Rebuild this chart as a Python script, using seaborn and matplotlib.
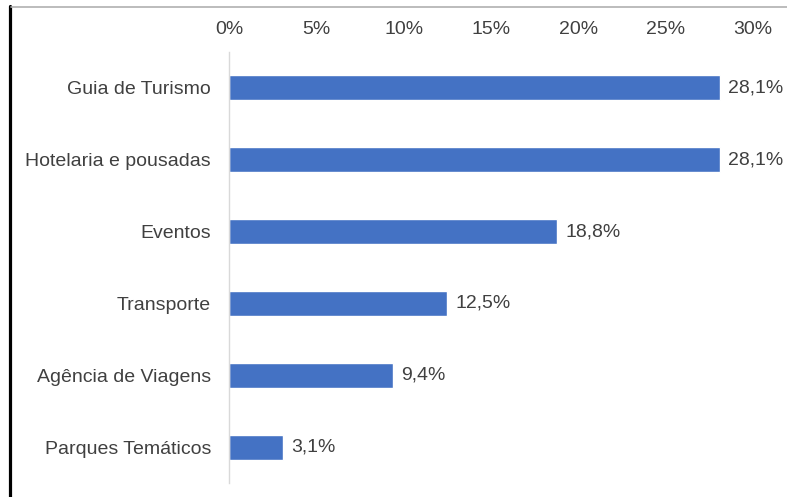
import matplotlib
matplotlib.use("Agg")
import matplotlib.pyplot as plt
import seaborn as sns
from matplotlib.lines import Line2D

# data
categories = ["Guia de Turismo", "Hotelaria e pousadas", "Eventos",
              "Transporte", "Agência de Viagens", "Parques Temáticos"]
values = [28.1, 28.1, 18.8, 12.5, 9.4, 3.1]
tick_values = [0, 5, 10, 15, 20, 25, 30]
tick_labels = ["0%", "5%", "10%", "15%", "20%", "25%", "30%"]

sns.set_style("white")
plt.rcParams["font.family"] = ["Liberation Sans", "DejaVu Sans"]
text_color = "#404040"

fig = plt.figure(figsize=(7.87, 4.97), dpi=100)
ax = fig.add_axes([229 / 787, 1 - 483 / 497, (753 - 229) / 787, (483 - 52) / 497])

sns.barplot(x=values, y=categories, color="#4472C4", width=0.35,
            orient="h", ax=ax, saturation=1)

ax.set_xlim(0, 30)
ax.set_xticks(tick_values)
ax.set_xticklabels(tick_labels)
ax.xaxis.tick_top()
ax.tick_params(axis="x", length=0, pad=10, labelsize=14, labelcolor=text_color)
ax.tick_params(axis="y", length=0, pad=13, labelsize=14, labelcolor=text_color)
ax.set_xlabel("")
ax.set_ylabel("")

for s in ["top", "right", "bottom"]:
    ax.spines[s].set_visible(False)
ax.spines["left"].set_color("#D9D9D9")
ax.spines["left"].set_linewidth(1)

labels = [f"{v:.1f}%".replace(".", ",") for v in values]
ax.bar_label(ax.containers[0], labels=labels, padding=6,
             fontsize=14, color=text_color)

# frame lines of the screenshot
fig.add_artist(Line2D([9.5 / 787, 9.5 / 787], [0, 1 - 6 / 497],
                      transform=fig.transFigure, color="black", linewidth=2.3))
fig.add_artist(Line2D([11 / 787, 1], [1 - 7 / 497, 1 - 7 / 497],
                      transform=fig.transFigure, color="#B0B0B0", linewidth=1.2))

fig.savefig("out.png", dpi=100)
